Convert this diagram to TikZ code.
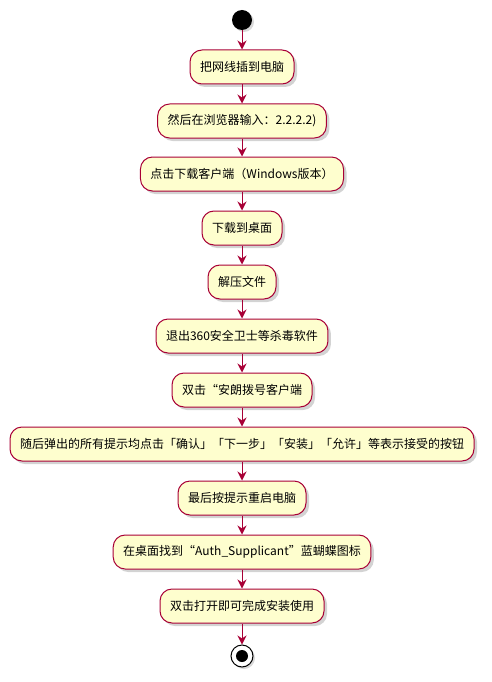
\documentclass[tikz,border=0pt]{standalone}
\usepackage{fontspec}
\setmainfont{Noto Sans CJK SC}
\usetikzlibrary{arrows.meta,shadows,positioning}
\definecolor{actfill}{HTML}{FEFECE}
\definecolor{actline}{HTML}{A80036}
\tikzset{
  act/.style={draw=actline, fill=actfill, line width=1pt, rounded corners=12pt,
    minimum height=34pt, inner xsep=10pt, inner ysep=0pt, font=\fontsize{12pt}{14pt}\selectfont,
    drop shadow={shadow xshift=3pt, shadow yshift=-3pt, opacity=0.35, fill=gray}},
  flow/.style={draw=actline, line width=1pt, -{Stealth[length=9pt,width=9pt,inset=3pt]}},
}
\begin{document}
\begin{tikzpicture}[x=1pt,y=-1pt]
\useasboundingbox (0,0) rectangle (492,682);
\node[circle, fill=black, minimum size=20pt, inner sep=0pt, drop shadow={shadow xshift=2pt, shadow yshift=-2pt, opacity=0.3, fill=gray}] (start) at (242,20) {};
\node[act] (a1) at (242,67) {把网线插到电脑};
\node[act] (a2) at (242,121) {然后在浏览器输入：2.2.2.2)};
\node[act] (a3) at (242,174) {点击下载客户端（Windows版本）};
\node[act] (a4) at (242,228) {下载到桌面};
\node[act] (a5) at (242,282) {解压文件};
\node[act] (a6) at (242,336) {退出360安全卫士等杀毒软件};
\node[act] (a7) at (242,390) {双击“安朗拨号客户端};
\node[act] (a8) at (242,444) {随后弹出的所有提示均点击「确认」「下一步」「安装」「允许」等表示接受的按钮};
\node[act] (a9) at (242,498) {最后按提示重启电脑};
\node[act] (a10) at (242,552) {在桌面找到“Auth\_Supplicant”蓝蝴蝶图标};
\node[act] (a11) at (242,606) {双击打开即可完成安装使用};
\node[circle, draw=black, fill=white, line width=1pt, minimum size=22pt, inner sep=0pt, drop shadow={shadow xshift=2pt, shadow yshift=-2pt, opacity=0.3, fill=gray}] (stop) at (242,656) {};
\fill[black] (stop.center) circle (6pt);
\draw[flow] (start) -- (a1);
\draw[flow] (a1) -- (a2);
\draw[flow] (a2) -- (a3);
\draw[flow] (a3) -- (a4);
\draw[flow] (a4) -- (a5);
\draw[flow] (a5) -- (a6);
\draw[flow] (a6) -- (a7);
\draw[flow] (a7) -- (a8);
\draw[flow] (a8) -- (a9);
\draw[flow] (a9) -- (a10);
\draw[flow] (a10) -- (a11);
\draw[flow] (a11) -- (stop);
\end{tikzpicture}
\end{document}
